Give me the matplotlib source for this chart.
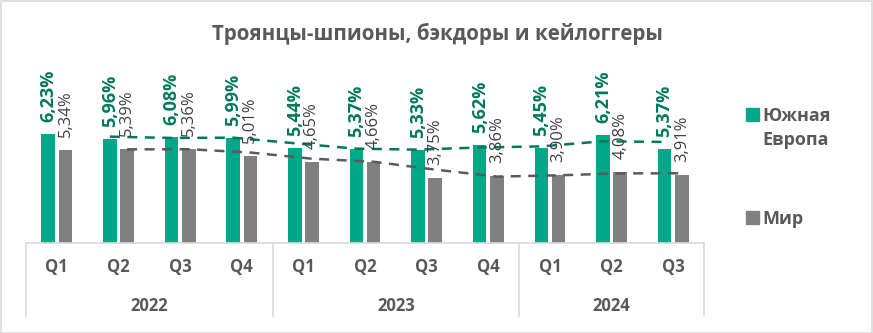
import matplotlib
matplotlib.use('Agg')

import matplotlib.pyplot as plt
import matplotlib.transforms as mtransforms
from matplotlib.patches import Rectangle, Patch
import numpy as np
import pandas as pd

plt.rcParams['font.family'] = ['Open Sans', 'DejaVu Sans']

# ---------------- data ----------------
years = ['2022', '2023', '2024']
quarters = ['Q1', 'Q2', 'Q3', 'Q4', 'Q1', 'Q2', 'Q3', 'Q4', 'Q1', 'Q2', 'Q3']
quarters_per_year = [4, 4, 3]
south_europe = [6.23, 5.96, 6.08, 5.99, 5.44, 5.37, 5.33, 5.62, 5.45, 6.21, 5.37]
world = [5.34, 5.39, 5.36, 5.01, 4.65, 4.66, 3.75, 3.86, 3.90, 4.08, 3.91]
series_names = ['Южная Европа', 'Мир']
title = 'Троянцы-шпионы, бэкдоры и кейлоггеры'

# colors
GREEN = '#00A88A'
GREEN_DARK = '#00785E'
GREY = '#808080'
GREY_LABEL = '#404040'
GREY_TREND = '#5A5A5A'
TEXT = '#595959'
LINE = '#D9D9D9'

W, H = 873, 333
fig = plt.figure(figsize=(W / 100, H / 100), dpi=100)
fig.patch.set_facecolor('white')
fig.patches.append(Rectangle((0.5 / W, 0.5 / H), 1 - 1.5 / W, 1 - 1.5 / H,
                             transform=fig.transFigure, fill=False,
                             edgecolor=LINE, linewidth=1.2))

ax_left, ax_right, ax_bottom, ax_top = 26, 704, 243, 60
ax = fig.add_axes([ax_left / W, (H - ax_bottom) / H,
                   (ax_right - ax_left) / W, (ax_bottom - ax_top) / H])

x = np.arange(len(quarters))
bw = 0.22
off = 0.14
ax.bar(x - off, south_europe, bw, color=GREEN, zorder=2)
ax.bar(x + off, world, bw, color=GREY, zorder=2)

# trend lines: 2-period moving average
se_ma = pd.Series(south_europe).rolling(2).mean()
w_ma = pd.Series(world).rolling(2).mean()
ax.plot(x[1:] - off, se_ma[1:], color=GREEN_DARK, lw=1.8,
        dashes=(4, 3), zorder=3)
ax.plot(x[1:] + off, w_ma[1:], color=GREY_TREND, lw=1.8,
        dashes=(4, 3), zorder=3)

# data labels
for xi, v in zip(x, south_europe):
    ax.annotate(f'{v:.2f}%'.replace('.', ','), xy=(xi - off, v),
                xytext=(0, 12), textcoords='offset pixels', rotation=90,
                ha='center', va='bottom', fontsize=13, fontweight='bold',
                color=GREEN_DARK, zorder=4)
for xi, v in zip(x, world):
    ax.annotate(f'{v:.2f}%'.replace('.', ','), xy=(xi + off, v),
                xytext=(0, 13), textcoords='offset pixels', rotation=90,
                ha='center', va='bottom', fontsize=12,
                color=GREY_LABEL, zorder=4)

ax.set_xlim(-0.5, len(quarters) - 0.5)
ax.set_ylim(0, (ax_bottom - ax_top) / 17.45)
ax.set_yticks([])
for s in ['top', 'right', 'left']:
    ax.spines[s].set_visible(False)
ax.spines['bottom'].set_color(LINE)
ax.spines['bottom'].set_linewidth(1.2)

ax.set_xticks(x)
ax.set_xticklabels(quarters, fontsize=12, fontweight='bold', color=TEXT)
ax.tick_params(axis='x', length=0, pad=11)

# year level of category axis
trans = mtransforms.blended_transform_factory(ax.transData, ax.transAxes)
depth = (316 - ax_bottom) / (ax_bottom - ax_top)
year_y = -(306 - ax_bottom) / (ax_bottom - ax_top)
edges = np.concatenate([[0], np.cumsum(quarters_per_year)]) - 0.5
for e in edges:
    ax.plot([e, e], [0, -depth], transform=trans, color=LINE, lw=1.2,
            clip_on=False)
for yname, a, b in zip(years, edges[:-1], edges[1:]):
    ax.text((a + b) / 2, year_y, yname, transform=trans, ha='center',
            va='center', fontsize=12, fontweight='bold', color=TEXT)

fig.text(437 / W, 1 - 34 / H, title, ha='center', va='center',
         fontsize=14.8, fontweight='bold', color=TEXT)

# legend: the first name wraps onto a second line, marker on the first line
first, second = series_names[0].split(' ')
leg_kw = dict(loc='upper left', frameon=False, borderpad=0, borderaxespad=0,
              handlelength=0.72, handleheight=0.72, handletextpad=0.2,
              labelspacing=0.33, prop={'size': 13, 'weight': 'bold'},
              labelcolor=TEXT)
fig.legend([Patch(color=GREEN), Patch(alpha=0)], [first, second],
           bbox_to_anchor=(746 / W, 1 - 107 / H), **leg_kw)
fig.legend([Patch(color=GREY)], [series_names[1]],
           bbox_to_anchor=(746 / W, 1 - 210 / H), **leg_kw)

fig.savefig('out.png', dpi=100)
